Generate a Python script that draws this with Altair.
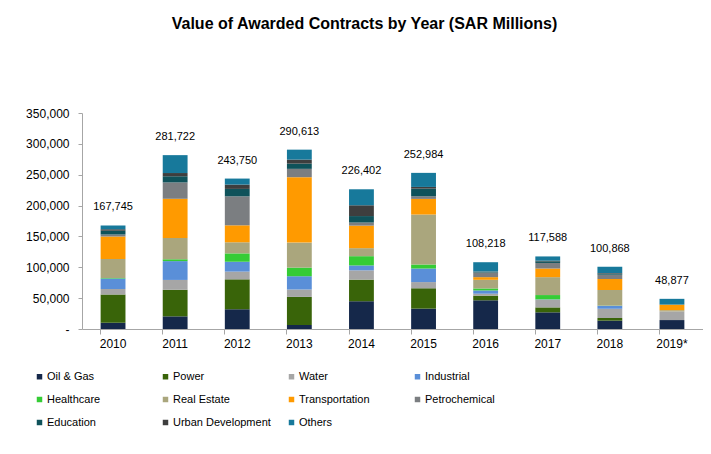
import altair as alt
import pandas as pd

years = ["2010", "2011", "2012", "2013", "2014", "2015", "2016", "2017", "2018", "2019*"]
categories = ["Oil & Gas", "Power", "Water", "Industrial", "Healthcare", "Real Estate",
              "Transportation", "Petrochemical", "Education", "Urban Development", "Others"]
colors = ["#15284a", "#396409", "#a6a6a6", "#5a8fd8", "#35cc35", "#aaa67d",
          "#ff9a00", "#7b7e81", "#0f525a", "#3e3e3e", "#17799b"]

oil_gas = [10000, 20500, 32000, 6500, 45000, 33000, 46500, 27000, 13500, 14500]
power = [46000, 43000, 48500, 45500, 35000, 33000, 7500, 8000, 4300, 0]
water = [9000, 16000, 12500, 12000, 15000, 10000, 3200, 12500, 15000, 14000]
industrial = [17000, 30500, 16000, 21500, 8000, 22000, 5300, 500, 4800, 0]
healthcare = [500, 3000, 13500, 14000, 15000, 6500, 3200, 7000, 300, 0]
real_estate = [31000, 34500, 18000, 40500, 13000, 81000, 14000, 29000, 25300, 2000]
transportation = [36500, 63500, 27500, 106000, 36500, 25300, 4300, 14000, 17800, 9000]
petrochemical = [3000, 26500, 47000, 13500, 5000, 4300, 7500, 9000, 7000, 0]
education = [6000, 10000, 12000, 8500, 10500, 12400, 1200, 2700, 1600, 0]
urban_development = [2745, 5222, 7000, 6500, 17500, 2700, 500, 1000, 1000, 0]
others = [6000, 29000, 9750, 16113, 25902, 22784, 15018, 6888, 10268, 9377]

totals = [167745, 281722, 243750, 290613, 226402, 252984, 108218, 117588, 100868, 48877]

y_ticks = [0, 50000, 100000, 150000, 200000, 250000, 300000, 350000]

series = [oil_gas, power, water, industrial, healthcare, real_estate,
          transportation, petrochemical, education, urban_development, others]

# legend is filled column by column (3 rows), so list entries in that order
legend_order = [0, 4, 8, 1, 5, 9, 2, 6, 10, 3, 7]
legend_domain = [categories[i] for i in legend_order]
legend_range = [colors[i] for i in legend_order]

rows = []
for ci, cat in enumerate(categories):
    for yi, yr in enumerate(years):
        rows.append({"year": yr, "category": cat, "value": series[ci][yi], "order": ci})
df = pd.DataFrame(rows)
tot_df = pd.DataFrame({"year": years, "total": totals})

FONT = "Liberation Sans"

x_scale = alt.Scale(paddingInner=0.6, paddingOuter=0.3)
x_axis = alt.Axis(labelAngle=0, labelFontSize=12, labelColor="#000000", labelFont=FONT,
                  domainColor="#a6a6a6", tickColor="#a6a6a6", tickSize=5,
                  bandPosition=0, labelPadding=4, grid=False)

y_scale = alt.Scale(domain=[0, 350000], nice=False)
y_axis = alt.Axis(values=y_ticks,
                  labelExpr="datum.value == 0 ? '-\u00a0\u00a0' : format(datum.value, ',')",
                  labelFontSize=12, labelColor="#000000", labelFont=FONT,
                  domainColor="#a6a6a6", tickColor="#a6a6a6", tickSize=4,
                  labelPadding=9, grid=False, labelOverlap=False)

bars = alt.Chart(df).mark_bar().encode(
    x=alt.X("year:N", sort=years, title=None, scale=x_scale, axis=x_axis),
    y=alt.Y("value:Q", stack="zero", scale=y_scale, title=None, axis=y_axis),
    color=alt.Color("category:N", scale=alt.Scale(domain=legend_domain, range=legend_range),
                    legend=alt.Legend(title=None, orient="none", legendX=-48, legendY=258,
                                      columns=4, symbolType="square", symbolSize=30,
                                      symbolStrokeWidth=0, labelFontSize=11, labelFont=FONT,
                                      labelColor="#000000", columnPadding=15, rowPadding=11,
                                      gridAlign="all", padding=0, labelOffset=2)),
    order=alt.Order("order:Q", sort="ascending"),
)

labels = alt.Chart(tot_df).mark_text(baseline="middle", dy=-18, fontSize=11, font=FONT,
                                     color="#000000").encode(
    x=alt.X("year:N", sort=years, title=None, scale=x_scale, axis=x_axis),
    y=alt.Y("total:Q", scale=y_scale, title=None, axis=y_axis),
    text=alt.Text("total:Q", format=","),
)

chart = alt.layer(bars, labels).properties(
    width=621, height=216,
    padding={"left": 74, "top": 105, "right": 0, "bottom": 110},
    autosize=alt.AutoSizeParams(type="none"),
    title=alt.TitleParams("Value of Awarded Contracts by Year (SAR Millions)", fontSize=16,
                          fontWeight="bold", font=FONT, anchor="middle", dx=-28, offset=75,
                          color="#000000"),
).configure_view(stroke=None)

chart.save("out.html", embed_options={"renderer": "svg", "actions": False})
